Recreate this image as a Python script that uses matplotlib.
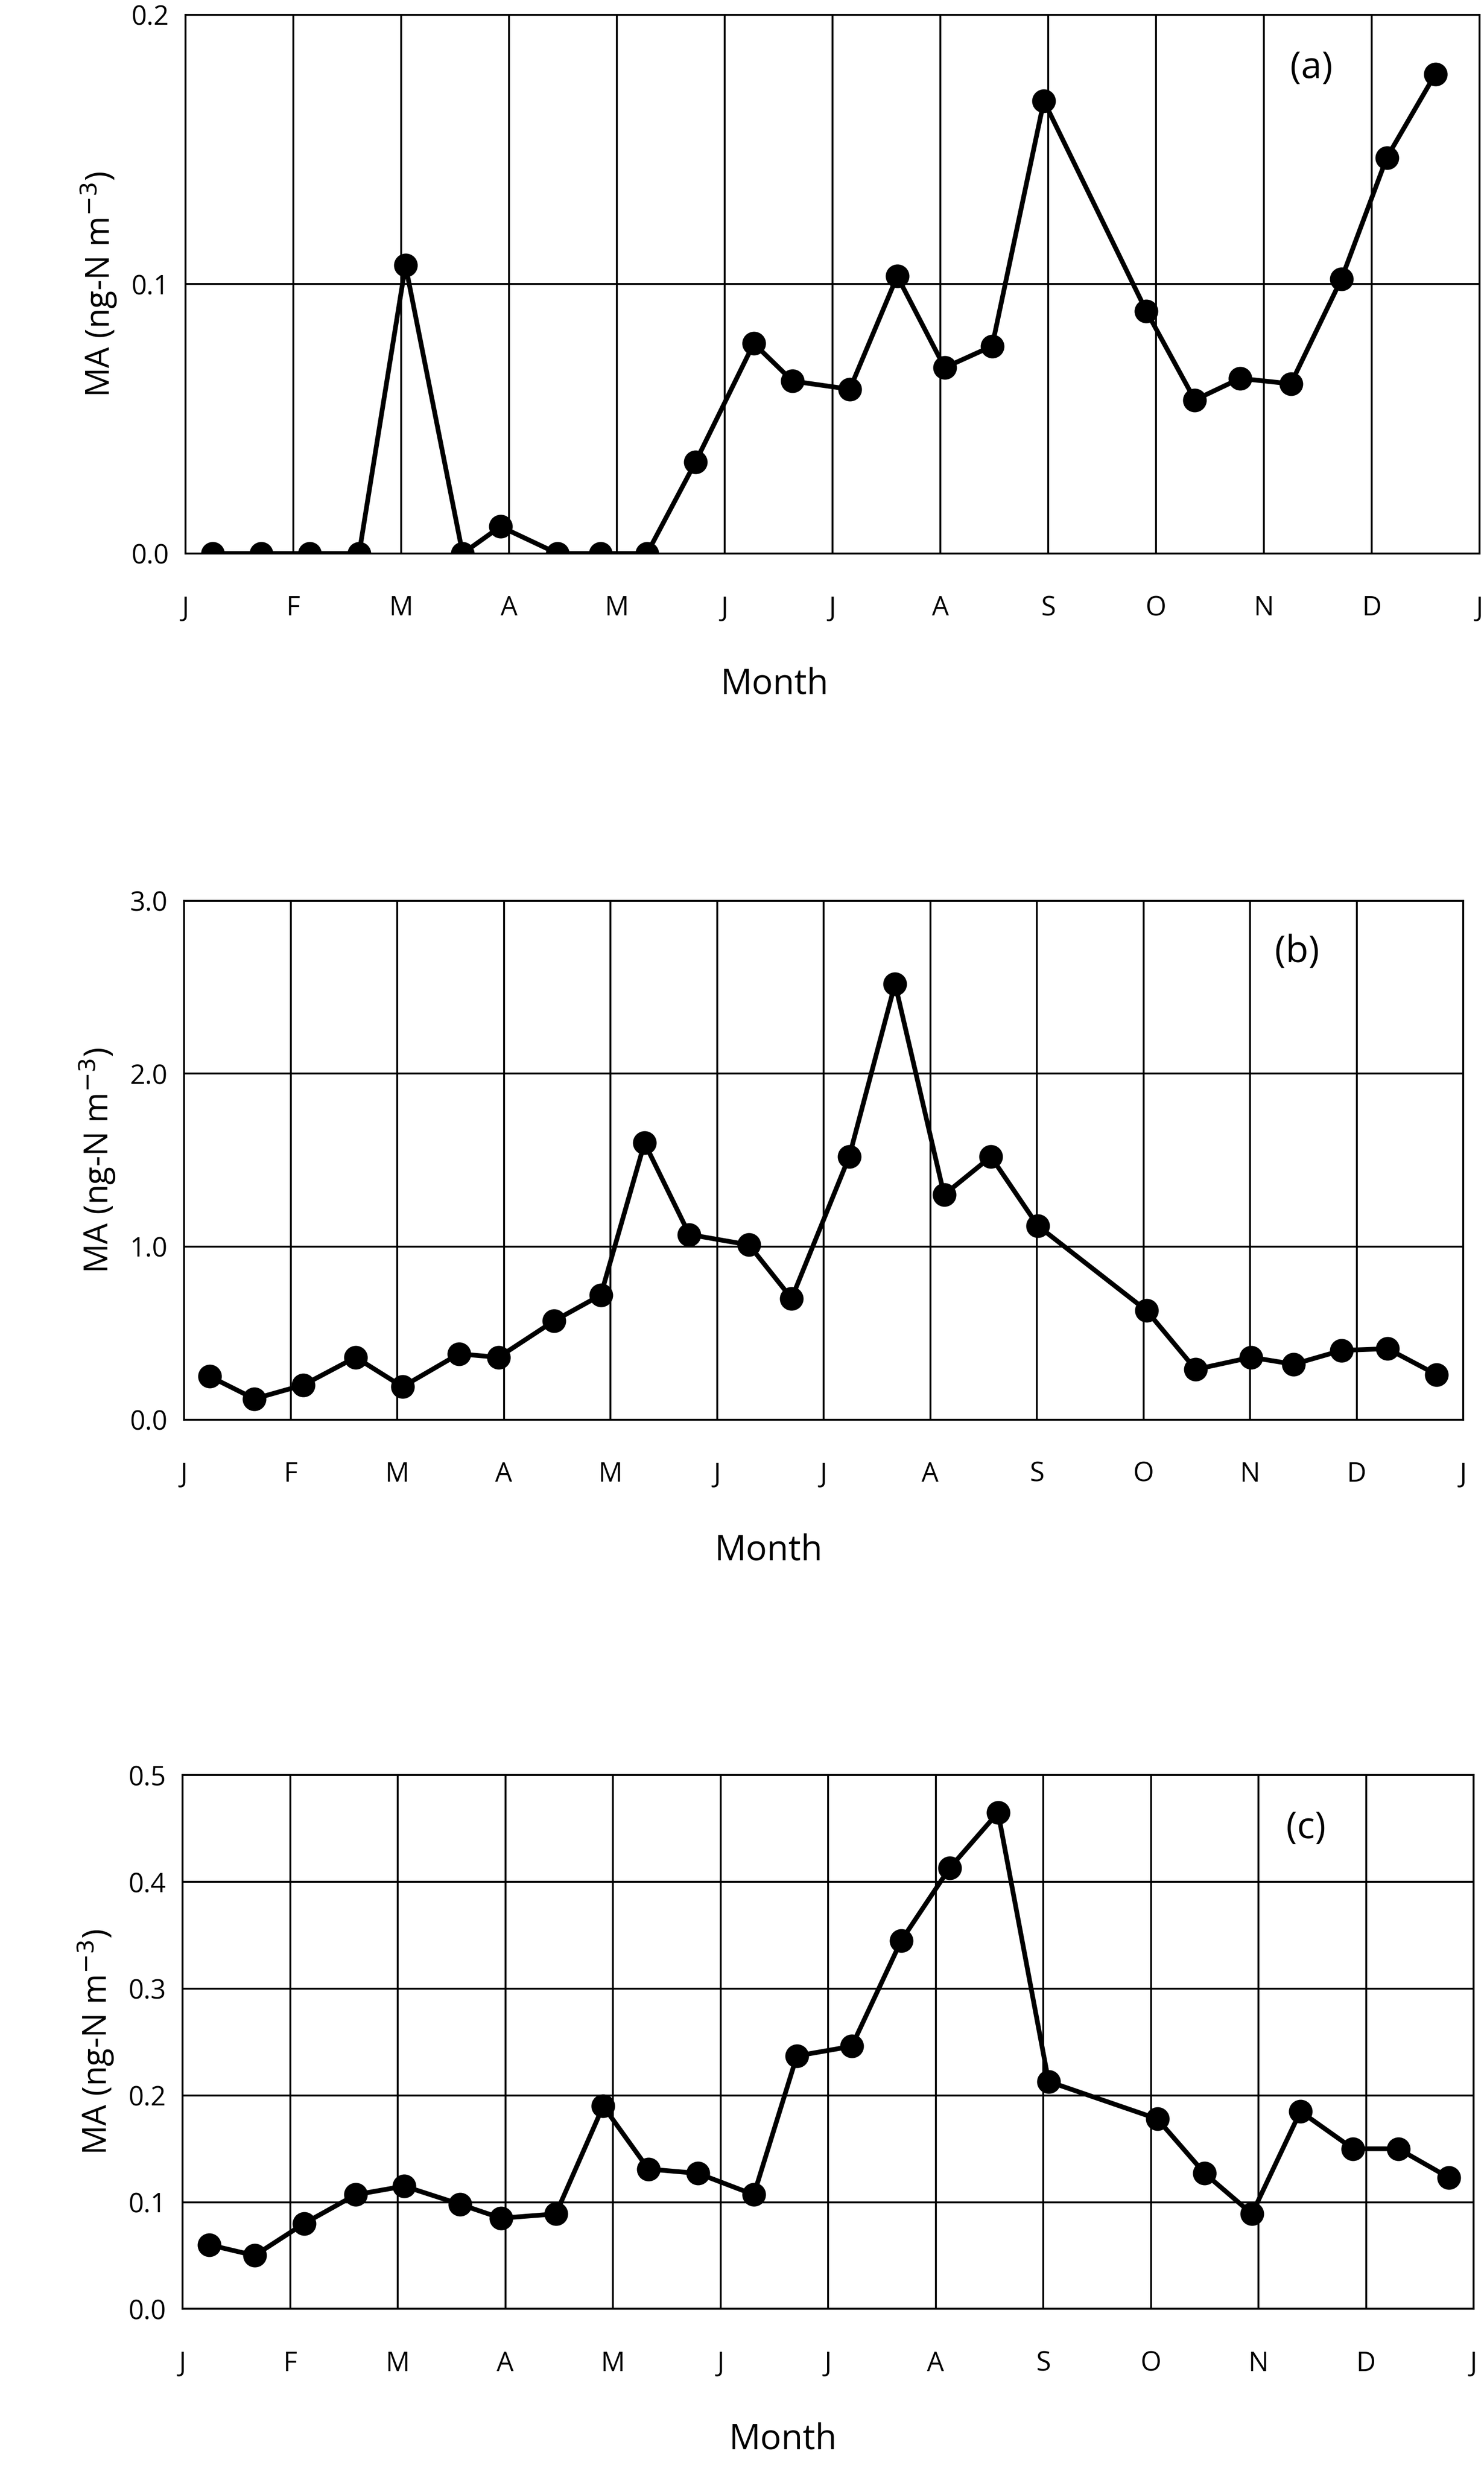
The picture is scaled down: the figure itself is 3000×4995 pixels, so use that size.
import numpy as np
import matplotlib.pyplot as plt

plt.rcParams['font.family'] = ['Open Sans', 'DejaVu Sans']

month_labels = ['J', 'F', 'M', 'A', 'M', 'J', 'J', 'A', 'S', 'O', 'N', 'D', 'J']

xa = [0.25, 0.70, 1.15, 1.61, 2.04, 2.57, 2.92, 3.45, 3.85, 4.28, 4.73, 5.27, 5.63,
      6.16, 6.60, 7.04, 7.48, 7.96, 8.91, 9.36, 9.78, 10.25, 10.72, 11.14, 11.59]
ya = [0, 0, 0, 0, 0.107, 0, 0.01, 0, 0, 0, 0.034, 0.078, 0.064,
      0.061, 0.103, 0.069, 0.077, 0.168, 0.09, 0.057, 0.065, 0.063, 0.102, 0.147, 0.178]

xb = [0.24, 0.66, 1.12, 1.61, 2.05, 2.58, 2.95, 3.47, 3.91, 4.32, 4.74, 5.30, 5.70,
      6.24, 6.67, 7.13, 7.57, 8.01, 9.03, 9.49, 10.01, 10.41, 10.86, 11.29, 11.75]
yb = [0.25, 0.12, 0.2, 0.36, 0.19, 0.38, 0.36, 0.57, 0.72, 1.6, 1.07, 1.01, 0.7,
      1.52, 2.52, 1.3, 1.52, 1.12, 0.63, 0.29, 0.36, 0.32, 0.4, 0.41, 0.26]

xc = [0.25, 0.67, 1.13, 1.61, 2.06, 2.58, 2.96, 3.47, 3.91, 4.33, 4.79, 5.31, 5.71,
      6.22, 6.68, 7.13, 7.58, 8.05, 9.06, 9.50, 9.94, 10.39, 10.88, 11.30, 11.77]
yc = [0.06, 0.05, 0.08, 0.107, 0.115, 0.098, 0.085, 0.089, 0.19, 0.131, 0.127, 0.107, 0.237,
      0.246, 0.345, 0.413, 0.465, 0.213, 0.178, 0.127, 0.089, 0.185, 0.15, 0.15, 0.123]

fig = plt.figure(figsize=(10, 16.65), dpi=300)

panels = [
    ([0.125, 0.776, 0.872, 0.218], xa, ya, 0.2, 0.1, '(a)', 0.455),
    ([0.124, 0.4255, 0.862, 0.210], xb, yb, 3.0, 1.0, '(b)', 0.457),
    ([0.123, 0.0656, 0.870, 0.216], xc, yc, 0.5, 0.1, '(c)', 0.465),
]

for rect, x, y, ymax, step, tag, xlab in panels:
    ax = fig.add_axes(rect)
    ax.plot(x, y, color='black', lw=2.3, marker='o', ms=10.5, zorder=3)
    ax.set_xlim(0, 12)
    ax.set_ylim(0, ymax)
    ax.set_xticks(range(13))
    ax.set_xticklabels(month_labels)
    yt = np.arange(0, ymax + step / 2, step)
    ax.set_yticks(yt)
    ax.set_yticklabels(['%.1f' % v for v in yt])
    ax.grid(True, color='black', lw=0.9)
    for s in ax.spines.values():
        s.set_linewidth(0.9)
    ax.tick_params(length=0, labelsize=13)
    ax.tick_params(axis='x', pad=20)
    ax.tick_params(axis='y', pad=8)
    ax.set_xlabel('Month', fontsize=17, labelpad=22, x=xlab)
    ax.set_ylabel('MA (ng-N m$^{-3}$)', fontsize=16, labelpad=6)
    ax.text(0.87, 0.9, tag, transform=ax.transAxes, fontsize=18, ha='center', va='center')

fig.savefig('out.png', dpi=300)
